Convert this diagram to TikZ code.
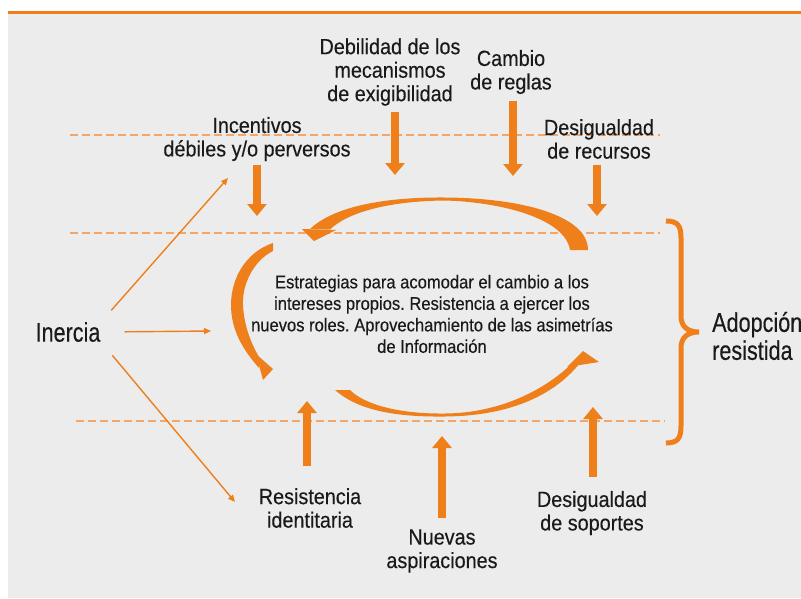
\documentclass[tikz,border=0pt]{standalone}
\usepackage{fontspec}
\setmainfont{Liberation Sans}[FakeStretch=0.9, FakeBold=0.3]
\newfontfamily\narrowfont{Liberation Sans}[FakeStretch=0.8, FakeBold=0.3]
\usetikzlibrary{arrows.meta}
\definecolor{naranja}{HTML}{EE7F1A}
\definecolor{naranjaclaro}{HTML}{F2A66A}
\definecolor{fondo}{HTML}{EBECEB}
\definecolor{texto}{HTML}{1A1A1A}
\frenchspacing

\begin{document}
\begin{tikzpicture}[x=1pt, y=-1pt,
  etiqueta/.style={align=center, font=\fontsize{22}{23.5}\selectfont, text=texto, inner sep=0pt},
  centro/.style={align=center, font=\fontsize{18.4}{21.5}\selectfont, text=texto, inner sep=0pt},
  grande/.style={font=\narrowfont\fontsize{27}{28}\selectfont, text=texto, inner sep=4pt},
  flecha/.style={naranja, line width=8pt, -{Triangle[length=12pt,width=19pt]}},
  fina/.style={naranja, line width=1.4pt, -{Triangle[length=7pt,width=6pt]}},
  limite/.style={naranjaclaro, line width=1.2pt, dash pattern=on 8pt off 4pt},
]
  \useasboundingbox (0,0) rectangle (801,598);
  \fill[fondo] (8,13.5) rectangle (801,598);
  \fill[naranja] (8,10.5) rectangle (801,13.5);

  % bandas
  \draw[limite] (70,135) -- (660,135);
  \draw[limite] (70,233) -- (660,233);
  \draw[limite] (76,421) -- (665,421);

  % factores
  \node[etiqueta] (deb) at (390,72) {Debilidad de los\\mecanismos\\de exigibilidad};
  \node[etiqueta] (cam) at (511,72) {Cambio\\de reglas};
  \node[etiqueta] (inc) at (257,139) {Incentivos\\débiles y/o perversos};
  \node[etiqueta] (rec) at (599,139) {Desigualdad\\de recursos};
  \node[etiqueta] (res) at (310,508) {Resistencia\\identitaria};
  \node[etiqueta] (nue) at (442,551) {Nuevas\\aspiraciones};
  \node[etiqueta] (sop) at (592,513) {Desigualdad\\de soportes};

  \node[centro] (est) at (432,314) {Estrategias para acomodar el cambio a los\\intereses propios. Resistencia a ejercer los\\nuevos roles. Aprovechamiento de las asimetrías\\de Información};

  \node[grande] (iner) at (68,332) {Inercia};
  \node[grande, align=left, anchor=west, inner sep=0pt] (adop) at (712,336) {Adopción\\resistida};

  \coordinate (inc-a) at (257,165);  \coordinate (inc-b) at (257,216);
  \coordinate (deb-a) at (395,112);  \coordinate (deb-b) at (395,175);
  \coordinate (cam-a) at (513,101);  \coordinate (cam-b) at (513,176);
  \coordinate (rec-a) at (597,165);  \coordinate (rec-b) at (597,216);
  \coordinate (res-a) at (307,466);  \coordinate (res-b) at (307,401);
  \coordinate (nue-a) at (442,518);  \coordinate (nue-b) at (442,436);
  \coordinate (sop-a) at (593,477);  \coordinate (sop-b) at (593,407);

  \draw[flecha] (inc-a) -- (inc-b);
  \draw[flecha] (deb-a) -- (deb-b);
  \draw[flecha] (cam-a) -- (cam-b);
  \draw[flecha] (rec-a) -- (rec-b);
  \draw[flecha] (res-a) -- (res-b);
  \draw[flecha] (nue-a) -- (nue-b);
  \draw[flecha] (sop-a) -- (sop-b);

  \coordinate (iner-1) at (228,178);
  \coordinate (iner-2) at (211,331);
  \coordinate (iner-3) at (235,502);
  \draw[fina, shorten <=10pt] (iner.north east) -- (iner-1);
  \draw[fina, shorten <=20pt] (iner.east) -- (iner-2);
  \draw[fina, shorten <=12pt] (iner.south east) -- (iner-3);

  % ciclo
  \fill[naranja] (570,250) .. controls (565,218) and (500,202) .. (445,200.5)
    .. controls (390,201) and (348,212) .. (330,229.5) -- (310,229)
    .. controls (335,205) and (390,197) .. (445,197.5)
    .. controls (520,198) and (588,215) .. (588,250) -- cycle;
  \fill[naranja] (302,229) -- (336,230) -- (314,241) -- cycle;

  \fill[naranja] (273,243) -- (273,251) .. controls (253,261) and (242,285) .. (243,305)
    .. controls (244,326) and (251,343) .. (259,357) -- (259,368)
    .. controls (243,350) and (231,330) .. (231,305)
    .. controls (231,278) and (246,252) .. (273,243) -- cycle;
  \fill[naranja] (256,354) -- (273,369) -- (263,380) -- cycle;

  \fill[naranja] (335,390) .. controls (360,412) and (400,417) .. (445,416.5)
    .. controls (505,416) and (552,398) .. (580,363) -- (573,362.5)
    .. controls (545,390) and (500,413) .. (445,413.5)
    .. controls (400,414) and (365,405) .. (350,390) -- cycle;
  \fill[naranja] (567,367) -- (583,351) -- (599,362) -- cycle;

  % llave
  \draw[naranja, line width=5pt] (666,221) .. controls (678,221) and (681,226) .. (681,238)
    -- (681,316) .. controls (681,327) and (688,332) .. (699,332)
    .. controls (688,332) and (681,337) .. (681,348)
    -- (681,426) .. controls (681,438) and (678,443) .. (666,443);
\end{tikzpicture}
\end{document}
